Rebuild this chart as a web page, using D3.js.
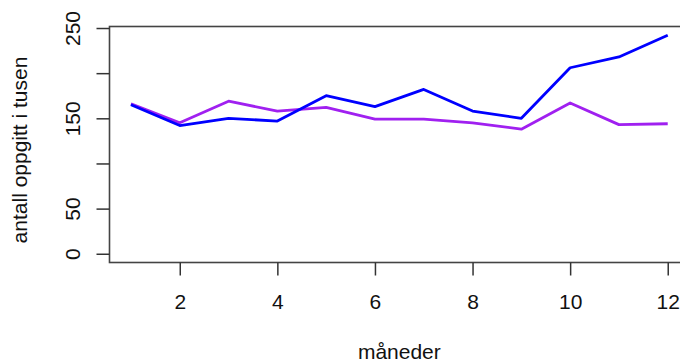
<!DOCTYPE html>
<html>
<head>
<meta charset="utf-8">
<script src="https://cdn.jsdelivr.net/npm/d3@7"></script>
<style>
  body { margin: 0; background: #fff; }
  svg { display: block; }
  text { font-family: "Liberation Sans", Arial, sans-serif; fill: #111; }
</style>
</head>
<body>
<svg id="chart" width="680" height="362"></svg>
<script>
// months and the two series (thousands)
const months = [1, 2, 3, 4, 5, 6, 7, 8, 9, 10, 11, 12]
const blueSeries = [165, 142, 150, 147, 175, 163, 182, 158, 150, 206, 218, 242]
const purpleSeries = [166, 145, 169, 158, 162, 149, 149, 145, 138, 167, 143, 144]
const xTicks = [2, 4, 6, 8, 10, 12]
const yTicks = [0, 50, 100, 150, 200, 250]
const yLabelsShown = [0, 50, 150, 250]   // R drops the labels that would overlap
const xTitle = 'måneder'
const yTitle = 'antall oppgitt i tusen'

const svg = d3.select('#chart')
const plot = {left: 109.5, right: 689.2, top: 26.5, bottom: 262.5}

// R style 4% padding on both axes
const pad = (lo, hi) => [lo - (hi - lo) * 0.04, hi + (hi - lo) * 0.04]
const xScale = d3.scaleLinear()
    .domain(pad(d3.min(months), d3.max(months)))
    .range([plot.left, plot.right])
const yScale = d3.scaleLinear()
    .domain(pad(0, d3.max(blueSeries.concat(purpleSeries))))
    .range([plot.bottom, plot.top])

// lines
const line = d3.line()
    .x((d, i) => xScale(months[i]))
    .y(d => yScale(d))

const series = [
    {values: purpleSeries, color: '#A020F0'},
    {values: blueSeries, color: '#0000FF'}
]
svg.selectAll('.serie')
    .data(series)
    .enter()
    .append('path')
    .attr('class', 'serie')
    .attr('d', d => line(d.values))
    .attr('fill', 'none')
    .attr('stroke', d => d.color)
    .attr('stroke-width', 2.8)
    .attr('stroke-linejoin', 'round')

// box
svg.append('rect')
    .attr('x', plot.left)
    .attr('y', plot.top)
    .attr('width', plot.right - plot.left)
    .attr('height', plot.bottom - plot.top)
    .attr('fill', 'none')
    .attr('stroke', '#444')
    .attr('stroke-width', 1.6)

// x axis
const xAx = svg.append('g')
    .attr('transform', `translate(0,${plot.bottom})`)
    .call(d3.axisBottom(xScale).tickValues(xTicks).tickSize(13).tickSizeOuter(0))
xAx.select('.domain').remove()
xAx.selectAll('line').attr('stroke', '#333').attr('stroke-width', 1.5)
xAx.selectAll('text')
    .attr('y', 46.5)
    .attr('dy', 0)
    .style('font-size', '21px')
    .attr('fill', '#111')

// y axis, labels parallel to the axis
const yAx = svg.append('g')
    .attr('transform', `translate(${plot.left},0)`)
    .call(d3.axisLeft(yScale).tickValues(yTicks).tickSize(13).tickSizeOuter(0)
        .tickFormat(d => yLabelsShown.includes(d) ? d : ''))
yAx.select('.domain').remove()
yAx.selectAll('line').attr('stroke', '#333').attr('stroke-width', 1.5)
yAx.selectAll('text')
    .attr('transform', 'rotate(-90)')
    .attr('x', 0)
    .attr('y', -29.5)
    .attr('dy', 0)
    .attr('text-anchor', 'middle')
    .style('font-size', '21px')
    .attr('fill', '#111')

// titles
svg.append('text')
    .attr('x', (plot.left + plot.right) / 2)
    .attr('y', 359)
    .attr('text-anchor', 'middle')
    .style('font-size', '21px')
    .text(xTitle)

svg.append('text')
    .attr('transform', 'translate(27,150) rotate(-90)')
    .attr('text-anchor', 'middle')
    .style('font-size', '21px')
    .text(yTitle)
</script>
</body>
</html>
